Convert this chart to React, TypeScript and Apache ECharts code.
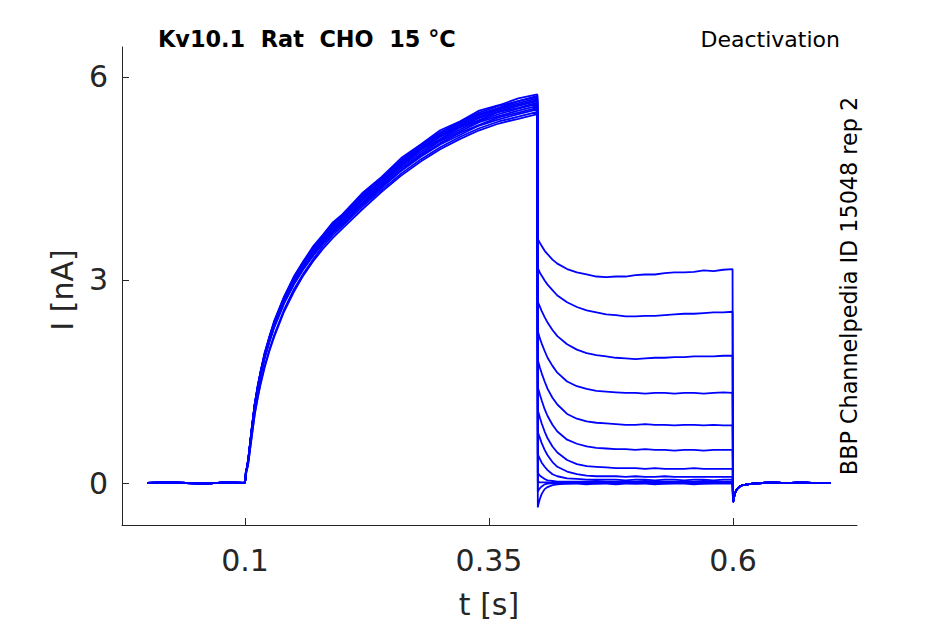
import { useEffect, useRef } from "react"
import * as echarts from "echarts"

// holding level before the pulse
const baseTime = [0, 0.02, 0.04, 0.06, 0.08, 0.0995]
const baseCurrent = [0, 0.01, 0, -0.01, 0.01, 0]

// activation step (0.1 s .. 0.4 s)
const actTime = [
  0.1, 0.1005, 0.101, 0.102, 0.1035, 0.105, 0.107, 0.11, 0.113, 0.116, 0.12, 0.125, 0.13, 0.14, 0.15,
  0.16, 0.17, 0.18, 0.19, 0.2, 0.22, 0.24, 0.26, 0.28, 0.3, 0.32, 0.34, 0.36, 0.38, 0.3995,
]
const act01 = [0, 0.05, 0.19, 0.23, 0.38, 0.56, 0.83, 1.17, 1.44, 1.64, 1.92, 2.16, 2.4, 2.75, 3.05, 3.28, 3.5, 3.67, 3.85, 3.97, 4.28, 4.52, 4.8, 5.0, 5.21, 5.34, 5.5, 5.58, 5.68, 5.74]
const act02 = [0, 0.06, 0.17, 0.22, 0.37, 0.56, 0.81, 1.17, 1.42, 1.65, 1.9, 2.16, 2.38, 2.75, 3.03, 3.28, 3.47, 3.66, 3.83, 3.96, 4.26, 4.51, 4.77, 4.99, 5.18, 5.33, 5.47, 5.57, 5.64, 5.72]
const act03 = [0, 0.07, 0.18, 0.23, 0.36, 0.56, 0.81, 1.16, 1.42, 1.64, 1.89, 2.15, 2.37, 2.73, 3.02, 3.26, 3.47, 3.64, 3.81, 3.95, 4.23, 4.5, 4.75, 4.98, 5.16, 5.31, 5.45, 5.54, 5.64, 5.7]
const act04 = [0, 0.06, 0.18, 0.22, 0.36, 0.55, 0.81, 1.16, 1.41, 1.64, 1.89, 2.14, 2.37, 2.72, 3.01, 3.25, 3.46, 3.64, 3.79, 3.94, 4.23, 4.48, 4.73, 4.96, 5.14, 5.29, 5.43, 5.53, 5.61, 5.68]
const act05 = [0, 0.05, 0.18, 0.22, 0.36, 0.55, 0.8, 1.16, 1.41, 1.63, 1.88, 2.13, 2.36, 2.72, 3.0, 3.24, 3.44, 3.63, 3.79, 3.93, 4.2, 4.48, 4.72, 4.94, 5.13, 5.27, 5.41, 5.51, 5.59, 5.66]
const act06 = [0, 0.06, 0.17, 0.22, 0.36, 0.55, 0.8, 1.15, 1.4, 1.62, 1.88, 2.12, 2.35, 2.71, 2.99, 3.23, 3.43, 3.61, 3.77, 3.92, 4.19, 4.46, 4.7, 4.93, 5.11, 5.26, 5.39, 5.49, 5.57, 5.64]
const act07 = [0, 0.06, 0.18, 0.22, 0.35, 0.55, 0.79, 1.15, 1.4, 1.62, 1.86, 2.12, 2.34, 2.7, 2.97, 3.23, 3.41, 3.6, 3.77, 3.89, 4.18, 4.45, 4.68, 4.92, 5.08, 5.25, 5.36, 5.48, 5.54, 5.62]
const act08 = [0, 0.06, 0.18, 0.22, 0.36, 0.54, 0.79, 1.14, 1.39, 1.61, 1.86, 2.11, 2.33, 2.69, 2.97, 3.21, 3.4, 3.59, 3.74, 3.89, 4.17, 4.42, 4.68, 4.89, 5.07, 5.22, 5.35, 5.45, 5.53, 5.6]
const act09 = [0, 0.05, 0.17, 0.21, 0.35, 0.54, 0.79, 1.14, 1.39, 1.6, 1.85, 2.1, 2.32, 2.68, 2.95, 3.19, 3.39, 3.57, 3.72, 3.87, 4.14, 4.4, 4.65, 4.86, 5.05, 5.19, 5.33, 5.42, 5.5, 5.57]
const act10 = [0, 0.06, 0.17, 0.21, 0.35, 0.54, 0.78, 1.13, 1.38, 1.6, 1.84, 2.09, 2.31, 2.66, 2.94, 3.17, 3.37, 3.55, 3.71, 3.84, 4.12, 4.38, 4.62, 4.84, 5.02, 5.17, 5.29, 5.4, 5.47, 5.54]
const act11 = [0, 0.06, 0.18, 0.22, 0.35, 0.54, 0.78, 1.13, 1.37, 1.59, 1.84, 2.08, 2.3, 2.65, 2.93, 3.16, 3.36, 3.54, 3.69, 3.83, 4.11, 4.36, 4.61, 4.82, 5.0, 5.14, 5.28, 5.37, 5.45, 5.52]
const act12 = [0, 0.04, 0.14, 0.2, 0.31, 0.48, 0.7, 1.03, 1.27, 1.48, 1.72, 1.97, 2.19, 2.56, 2.86, 3.1, 3.31, 3.5, 3.66, 3.8, 4.08, 4.33, 4.57, 4.78, 4.96, 5.11, 5.24, 5.34, 5.41, 5.48]
const act13 = [0, 0.04, 0.13, 0.19, 0.3, 0.47, 0.69, 1.01, 1.25, 1.46, 1.7, 1.95, 2.16, 2.53, 2.82, 3.07, 3.28, 3.46, 3.62, 3.76, 4.04, 4.3, 4.54, 4.75, 4.93, 5.08, 5.21, 5.31, 5.38, 5.45]

// deactivation steps (0.4 s .. 0.6 s)
const deactTime = [
  0.4, 0.4005, 0.402, 0.404, 0.407, 0.41, 0.415, 0.42, 0.43, 0.44, 0.45, 0.46, 0.47, 0.48, 0.49, 0.5,
  0.51, 0.52, 0.53, 0.54, 0.55, 0.56, 0.57, 0.58, 0.59, 0.5995,
]
const deact01 = [3.6, 3.59, 3.55, 3.5, 3.43, 3.38, 3.3, 3.24, 3.16, 3.11, 3.08, 3.05, 3.04, 3.05, 3.05, 3.07, 3.08, 3.08, 3.1, 3.11, 3.11, 3.12, 3.14, 3.13, 3.15, 3.16]
const deact02 = [3.17, 3.16, 3.11, 3.06, 2.99, 2.93, 2.85, 2.77, 2.67, 2.6, 2.55, 2.52, 2.49, 2.48, 2.46, 2.46, 2.47, 2.47, 2.48, 2.49, 2.5, 2.5, 2.51, 2.52, 2.52, 2.53]
const deact03 = [2.68, 2.66, 2.61, 2.54, 2.45, 2.37, 2.26, 2.17, 2.05, 1.97, 1.92, 1.89, 1.87, 1.85, 1.84, 1.83, 1.84, 1.85, 1.85, 1.86, 1.86, 1.87, 1.87, 1.87, 1.88, 1.88]
const deact04 = [2.24, 2.22, 2.14, 2.06, 1.95, 1.85, 1.73, 1.63, 1.5, 1.43, 1.39, 1.36, 1.35, 1.34, 1.33, 1.33, 1.32, 1.33, 1.33, 1.32, 1.33, 1.33, 1.32, 1.33, 1.34, 1.33]
const deact05 = [1.82, 1.79, 1.71, 1.62, 1.5, 1.39, 1.26, 1.16, 1.02, 0.95, 0.91, 0.89, 0.88, 0.87, 0.86, 0.86, 0.87, 0.86, 0.86, 0.85, 0.86, 0.86, 0.85, 0.86, 0.85, 0.85]
const deact06 = [1.42, 1.39, 1.31, 1.22, 1.09, 0.99, 0.86, 0.76, 0.64, 0.58, 0.54, 0.52, 0.51, 0.5, 0.5, 0.49, 0.5, 0.49, 0.49, 0.48, 0.49, 0.49, 0.48, 0.49, 0.49, 0.49]
const deact07 = [1.08, 1.05, 0.97, 0.88, 0.76, 0.66, 0.54, 0.45, 0.34, 0.28, 0.25, 0.24, 0.23, 0.22, 0.22, 0.22, 0.21, 0.22, 0.21, 0.21, 0.21, 0.22, 0.21, 0.21, 0.21, 0.21]
const deact08 = [0.76, 0.73, 0.67, 0.59, 0.49, 0.41, 0.31, 0.24, 0.17, 0.13, 0.11, 0.1, 0.1, 0.1, 0.09, 0.1, 0.09, 0.09, 0.1, 0.09, 0.09, 0.09, 0.09, 0.09, 0.09, 0.09]
const deact09 = [0.43, 0.41, 0.36, 0.3, 0.24, 0.19, 0.13, 0.1, 0.07, 0.06, 0.05, 0.05, 0.05, 0.05, 0.04, 0.05, 0.05, 0.04, 0.05, 0.05, 0.04, 0.05, 0.05, 0.04, 0.05, 0.05]
const deact10 = [0.15, 0.14, 0.11, 0.09, 0.06, 0.04, 0.03, 0.02, 0.02, 0.02, 0.02, 0.03, 0.02, 0.02, 0.02, 0.02, 0.03, 0.02, 0.02, 0.02, 0.02, 0.02, 0.03, 0.02, 0.02, 0.02]
const deact11 = [0.02, 0.02, 0.01, 0.01, 0.01, 0.01, 0, 0.01, 0, 0.01, 0, 0, 0.01, 0, 0, 0.01, 0, 0, 0, 0.01, 0, 0, 0.01, 0, 0, 0]
const deact12 = [-0.13, -0.11, -0.08, -0.05, -0.02, -0.01, 0, 0, -0.01, 0, 0, -0.01, 0, 0, 0, -0.01, 0, 0, -0.01, 0, 0, 0, -0.01, 0, 0, 0]
const deact13 = [-0.36, -0.32, -0.24, -0.16, -0.09, -0.06, -0.03, -0.02, -0.01, -0.01, -0.02, -0.01, -0.01, -0.02, -0.01, -0.01, -0.01, -0.02, -0.01, -0.01, -0.01, -0.02, -0.01, -0.01, -0.01, -0.01]

// return to holding (0.6 s .. 0.7 s)
const tailTime = [0.6, 0.6005, 0.601, 0.602, 0.604, 0.607, 0.61, 0.615, 0.62, 0.63, 0.64, 0.65, 0.66, 0.67, 0.68, 0.69, 0.7]
const tailCurrent = [-0.28, -0.25, -0.21, -0.15, -0.09, -0.05, -0.03, -0.02, -0.01, 0, 0.01, 0, 0, 0.01, 0, 0, 0]

const activationSweeps = [act01, act02, act03, act04, act05, act06, act07, act08, act09, act10, act11, act12, act13]
const deactivationSweeps = [deact01, deact02, deact03, deact04, deact05, deact06, deact07, deact08, deact09, deact10, deact11, deact12, deact13]

const xTicks = [0.1, 0.35, 0.6]
const yTicks = [0, 3, 6]

const FONT = "DejaVu Sans"
const AXIS_COLOR = "#262626"
const TRACE_COLOR = "#0000ff"

function pairs(t: number[], v: number[]) {
  return t.map((x, i) => [x, v[i]])
}

export default function App() {
  const chartRef = useRef<HTMLDivElement>(null)

  useEffect(() => {
    if (!chartRef.current) return
    const chart = echarts.init(chartRef.current, null, { renderer: "svg" })

    const series = activationSweeps.map((act, i) => ({
      name: `sweep ${i + 1}`,
      type: "line" as const,
      data: [
        ...pairs(baseTime, baseCurrent),
        ...pairs(actTime, act),
        ...pairs(deactTime, deactivationSweeps[i]),
        ...pairs(tailTime, tailCurrent),
      ],
      showSymbol: false,
      symbol: "none",
      silent: true,
      lineStyle: { color: TRACE_COLOR, width: 1.8 },
      itemStyle: { color: TRACE_COLOR },
    }))

    chart.setOption({
      animation: false,
      backgroundColor: "#ffffff",
      grid: { left: 122, top: 47, width: 735, height: 478, containLabel: false },
      xAxis: {
        type: "value",
        min: -0.026,
        max: 0.727,
        axisLine: { show: true, onZero: false, lineStyle: { color: AXIS_COLOR, width: 1 } },
        axisTick: { show: true, inside: true, length: 7, customValues: xTicks, lineStyle: { color: AXIS_COLOR } },
        axisLabel: { customValues: xTicks, fontSize: 30, fontFamily: FONT, color: AXIS_COLOR, margin: 20 },
        splitLine: { show: false },
      },
      yAxis: {
        type: "value",
        min: -0.62,
        max: 6.44,
        axisLine: { show: true, onZero: false, lineStyle: { color: AXIS_COLOR, width: 1 } },
        axisTick: { show: true, inside: true, length: 7, customValues: yTicks, lineStyle: { color: AXIS_COLOR } },
        axisLabel: { customValues: yTicks, fontSize: 30, fontFamily: FONT, color: AXIS_COLOR, margin: 14 },
        splitLine: { show: false },
      },
      graphic: [
        {
          type: "text",
          x: 158,
          y: 39,
          style: { text: "Kv10.1  Rat  CHO  15 °C", fontSize: 22.4, fontWeight: "bold", fontFamily: FONT, fill: "#000", align: "left", verticalAlign: "middle" },
        },
        {
          type: "text",
          x: 840,
          y: 39,
          style: { text: "Deactivation", fontSize: 22, fontFamily: FONT, fill: "#000", align: "right", verticalAlign: "middle" },
        },
        {
          type: "text",
          x: 849,
          y: 286,
          rotation: Math.PI / 2,
          style: { text: "BBP Channelpedia ID 15048 rep 2", fontSize: 22.3, fontFamily: FONT, fill: "#000", align: "center", verticalAlign: "middle" },
        },
        {
          type: "text",
          x: 489,
          y: 604,
          style: { text: "t [s]", fontSize: 30, fontFamily: FONT, fill: AXIS_COLOR, align: "center", verticalAlign: "middle" },
        },
        {
          type: "text",
          x: 62,
          y: 290,
          rotation: Math.PI / 2,
          style: { text: "I [nA]", fontSize: 30, fontFamily: FONT, fill: AXIS_COLOR, align: "center", verticalAlign: "middle" },
        },
      ],
      series,
    })

    return () => {
      chart.dispose()
    }
  }, [])

  return (
    <div
      ref={chartRef}
      style={{ position: "absolute", left: 0, top: 0, width: 945, height: 624, background: "#ffffff" }}
    />
  )
}
